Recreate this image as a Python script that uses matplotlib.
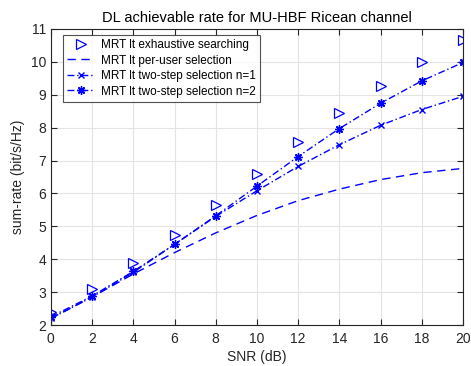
import matplotlib
matplotlib.use("Agg")
import matplotlib.pyplot as plt

snr = [0, 2, 4, 6, 8, 10, 12, 14, 16, 18, 20]
exhaustive = [2.4, 3.1, 3.88, 4.75, 5.65, 6.6, 7.55, 8.45, 9.27, 10.0, 10.65]
per_user = [2.2, 2.85, 3.55, 4.2, 4.8, 5.33, 5.78, 6.13, 6.42, 6.63, 6.76]
two_step_n1 = [2.2, 2.85, 3.6, 4.45, 5.3, 6.08, 6.82, 7.48, 8.07, 8.55, 8.95]
two_step_n2 = [2.25, 2.88, 3.63, 4.45, 5.32, 6.22, 7.12, 7.97, 8.74, 9.42, 9.98]

plt.rcParams['font.family'] = ['Liberation Sans', 'DejaVu Sans']
fig = plt.figure(figsize=(4.71, 3.66), dpi=100)
ax = fig.add_axes([0.108, 0.112, 0.875, 0.809])

blue = '#0000ff'
ax.plot(snr, exhaustive, linestyle='none', marker='>', markersize=7, markerfacecolor='none',
        markeredgecolor=blue, markeredgewidth=0.9, label='MRT lt exhaustive searching')
ax.plot(snr, per_user, linestyle=(0, (6, 4)), color=blue, linewidth=1.0, label='MRT lt per-user selection')
ax.plot(snr, two_step_n1, linestyle=(0, (5, 2, 1, 2)), color=blue, linewidth=1.0, marker='x',
        markersize=5, markeredgewidth=1.0, label='MRT lt two-step selection n=1')
ax.plot(snr, two_step_n2, linestyle=(0, (5, 2, 1, 2)), color=blue, linewidth=1.0, marker=(8, 2, 0),
        markersize=6, markeredgewidth=1.0, label='MRT lt two-step selection n=2')

ax.set_xlim(0, 20)
ax.set_ylim(2, 11)
ax.set_xticks(range(0, 21, 2))
ax.set_yticks(range(2, 12))
ax.grid(True, color='#e3e3e3', linewidth=0.8)
ax.set_axisbelow(True)
ax.tick_params(direction='in', top=True, right=True, labelsize=10, colors='#262626', length=4, width=0.8)
ax.tick_params(axis='x', pad=5)
for s in ax.spines.values():
    s.set_color('#262626')
    s.set_linewidth(0.8)
ax.set_xlabel('SNR (dB)', fontsize=10, color='#262626', labelpad=3)
ax.set_ylabel('sum-rate (bit/s/Hz)', fontsize=10, color='#262626')
ax.set_title('DL achievable rate for MU-HBF Ricean channel', fontsize=10.5, color='#000000', pad=5)

leg = ax.legend(loc='upper left', bbox_to_anchor=(0.029, 0.98), fontsize=8.5, frameon=True, fancybox=False,
                edgecolor='#262626', borderaxespad=0, handlelength=2.3, labelspacing=0.3, borderpad=0.35,
                handletextpad=0.6)
leg.get_frame().set_linewidth(0.8)

fig.savefig('out.png', dpi=100)
